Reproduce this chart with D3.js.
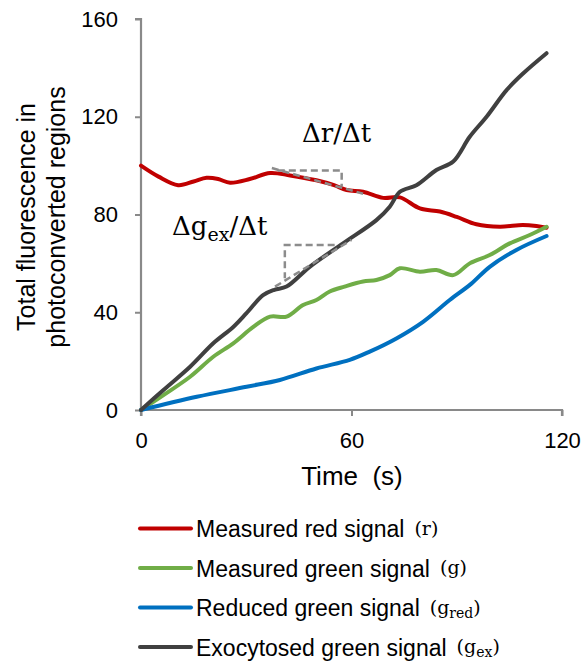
<!DOCTYPE html>
<html>
<head>
<meta charset="utf-8">
<script src="https://cdn.jsdelivr.net/npm/d3@7"></script>
<style>
  body { margin: 0; background: #fff; }
  svg { display: block; }
</style>
</head>
<body>
<div id="chart"></div>
<script>
// data
const xTicks = [0, 60, 120];
const yTicks = [0, 40, 80, 120, 160];

const redTime = [0, 5, 10.6, 15, 18.7, 22, 25.4, 31, 36.8, 42.5, 50, 55, 58.6, 63.3, 69, 73.8, 79.5, 85.2, 90, 95.6, 102.3, 108.8, 112.7, 115.6];
const redVal  = [100, 95.5, 92, 93.5, 95, 94.5, 93, 94.5, 97, 96, 94, 92, 90, 89.3, 86.8, 87, 82.5, 81.2, 79, 76, 75, 75.7, 75.3, 74.6];

const greenTime = [0, 6.4, 14, 20.6, 26.3, 32, 36.8, 41.5, 46.2, 50, 53.8, 58, 63.3, 67.1, 70.9, 73.8, 79.5, 84.2, 89, 93.7, 99.4, 105.1, 110.8, 115.6];
const greenVal  = [0, 6.1, 13.6, 21.8, 27.3, 34, 38.2, 38.2, 43, 45, 48.5, 50.5, 52.6, 53.2, 55.2, 58, 56.6, 57.3, 55.2, 60, 63.4, 68.2, 71.6, 75];

const blueTime = [0, 15.9, 30.1, 39.6, 50, 59.5, 65.2, 72.8, 80.4, 88, 94, 99.4, 107, 115.6];
const blueVal  = [0, 5.4, 9.5, 12.3, 17, 20.5, 23.9, 29.3, 36.1, 45, 51.5, 58.6, 65.5, 71.2];

const blackTime = [0, 6.4, 14, 20.6, 26.3, 30, 34.8, 38, 41.5, 48.1, 57.6, 67.1, 70.9, 73.8, 78.5, 84.2, 89, 93.7, 98.5, 104.2, 108.9, 115.6];
const blackVal  = [0, 8.2, 17.7, 27.3, 34, 39.5, 47, 49.2, 50.5, 58.6, 68.2, 77.7, 83.2, 89.3, 92, 98.2, 101.7, 111.8, 120, 130.9, 137.7, 146];

const seriesNames = ["Measured red signal", "Measured green signal", "Reduced green signal", "Exocytosed green signal"];
const seriesSymbols = [["r", ""], ["g", ""], ["g", "red"], ["g", "ex"]];
const seriesColors = ["#C00000", "#70AD47", "#0070C0", "#404040"];

// slope triangles (time, value)
const redTriangle = [[39, 98], [57.2, 98], [57.2, 91.5]];
const redHyp = [[37.3, 99], [63.3, 88.5]];
const blackTriangle = [[55.2, 67.5], [41, 67.5], [41, 53.9]];
const blackHyp = [[38.2, 50.5], [60, 69.6]];

const width = 587, height = 664;
const svg = d3.select("#chart").append("svg")
  .attr("width", width)
  .attr("height", height);

const x = d3.scaleLinear().domain([0, 120]).range([141, 562]);
const y = d3.scaleLinear().domain([0, 160]).range([410, 19]);

const axisColor = "#898989";
const sans = "'Liberation Sans', Arial, sans-serif";
const serif = "'DejaVu Serif', 'Liberation Serif', serif";

// axes
const yAxis = svg.append("g")
  .attr("transform", `translate(${x(0)},0)`)
  .call(d3.axisLeft(y).tickValues(yTicks).tickSize(6).tickPadding(17));
const xAxis = svg.append("g")
  .attr("transform", `translate(0,${y(0)})`)
  .call(d3.axisBottom(x).tickValues(xTicks).tickSize(6).tickPadding(16));

[xAxis, yAxis].forEach(a => {
  a.select(".domain").attr("stroke", axisColor).attr("stroke-width", 2.2);
  a.selectAll(".tick line").attr("stroke", axisColor).attr("stroke-width", 2);
  a.selectAll("text").attr("fill", "#000").style("font-family", sans).style("font-size", "22px");
});
yAxis.select(".domain").attr("d", `M-6,${y(160)}H0V${y(0)}`);
xAxis.select(".domain").attr("d", `M${x(0)},6V0H${x(120)}V6`);

// axis titles
svg.append("text")
  .attr("transform", `translate(35,217) rotate(-90)`)
  .attr("text-anchor", "middle")
  .style("font-family", sans).style("font-size", "25px")
  .text("Total fluorescence in");
svg.append("text")
  .attr("transform", `translate(65,217) rotate(-90)`)
  .attr("text-anchor", "middle")
  .style("font-family", sans).style("font-size", "25px")
  .text("photoconverted regions");
svg.append("text")
  .attr("x", 352)
  .attr("y", 485)
  .attr("text-anchor", "middle")
  .style("font-family", sans).style("font-size", "26px")
  .style("white-space", "pre")
  .text("Time  (s)");

// slope triangles
const dash = (pts) => svg.append("path")
  .attr("d", d3.line().x(d => x(d[0])).y(d => y(d[1]))(pts))
  .attr("fill", "none")
  .attr("stroke", "#8c8c8c")
  .attr("stroke-width", 2.5)
  .attr("stroke-dasharray", "7,4");

// lines
const line = d3.line()
  .x(d => x(d[0]))
  .y(d => y(d[1]))
  .curve(d3.curveCatmullRom.alpha(0.5));

const series = [
  d3.zip(redTime, redVal),
  d3.zip(greenTime, greenVal),
  d3.zip(blueTime, blueVal),
  d3.zip(blackTime, blackVal)
];

series.forEach((s, i) => {
  svg.append("path")
    .datum(s)
    .attr("d", line)
    .attr("fill", "none")
    .attr("stroke", seriesColors[i])
    .attr("stroke-width", 4)
    .attr("stroke-linecap", "round")
    .attr("stroke-linejoin", "round");
});

dash(redTriangle);
dash(redHyp);
dash(blackTriangle);
dash(blackHyp);

// slope labels
svg.append("text")
  .attr("x", 302).attr("y", 142)
  .style("font-family", serif).style("font-size", "26px")
  .text("Δr/Δt");

const dg = svg.append("text")
  .attr("x", 172).attr("y", 235)
  .style("font-family", serif).style("font-size", "26px");
dg.append("tspan").text("Δg");
dg.append("tspan").attr("dy", 6).style("font-size", "19px").text("ex");
dg.append("tspan").attr("dy", -6).text("/Δt");

// legend
const legendY = [528.5, 568, 607.5, 647];
seriesNames.forEach((name, i) => {
  const ly = legendY[i];
  svg.append("line")
    .attr("x1", 140).attr("x2", 191)
    .attr("y1", ly).attr("y2", ly)
    .attr("stroke", seriesColors[i])
    .attr("stroke-width", 4)
    .attr("stroke-linecap", "round");
  const t = svg.append("text")
    .attr("x", 196).attr("y", ly + 8.5)
    .style("font-family", sans).style("font-size", "23px")
    .text(name);
  const w = t.node().getComputedTextLength();
  const m = svg.append("text")
    .attr("x", 196 + w + 10).attr("y", ly + 6)
    .style("font-family", serif).style("font-size", "19px");
  m.append("tspan").text("(" + seriesSymbols[i][0]);
  if (seriesSymbols[i][1]) {
    m.append("tspan").attr("dy", 4).style("font-size", "14px").text(seriesSymbols[i][1]);
    m.append("tspan").attr("dy", -4).text(")");
  } else {
    m.append("tspan").text(")");
  }
});
</script>
</body>
</html>
